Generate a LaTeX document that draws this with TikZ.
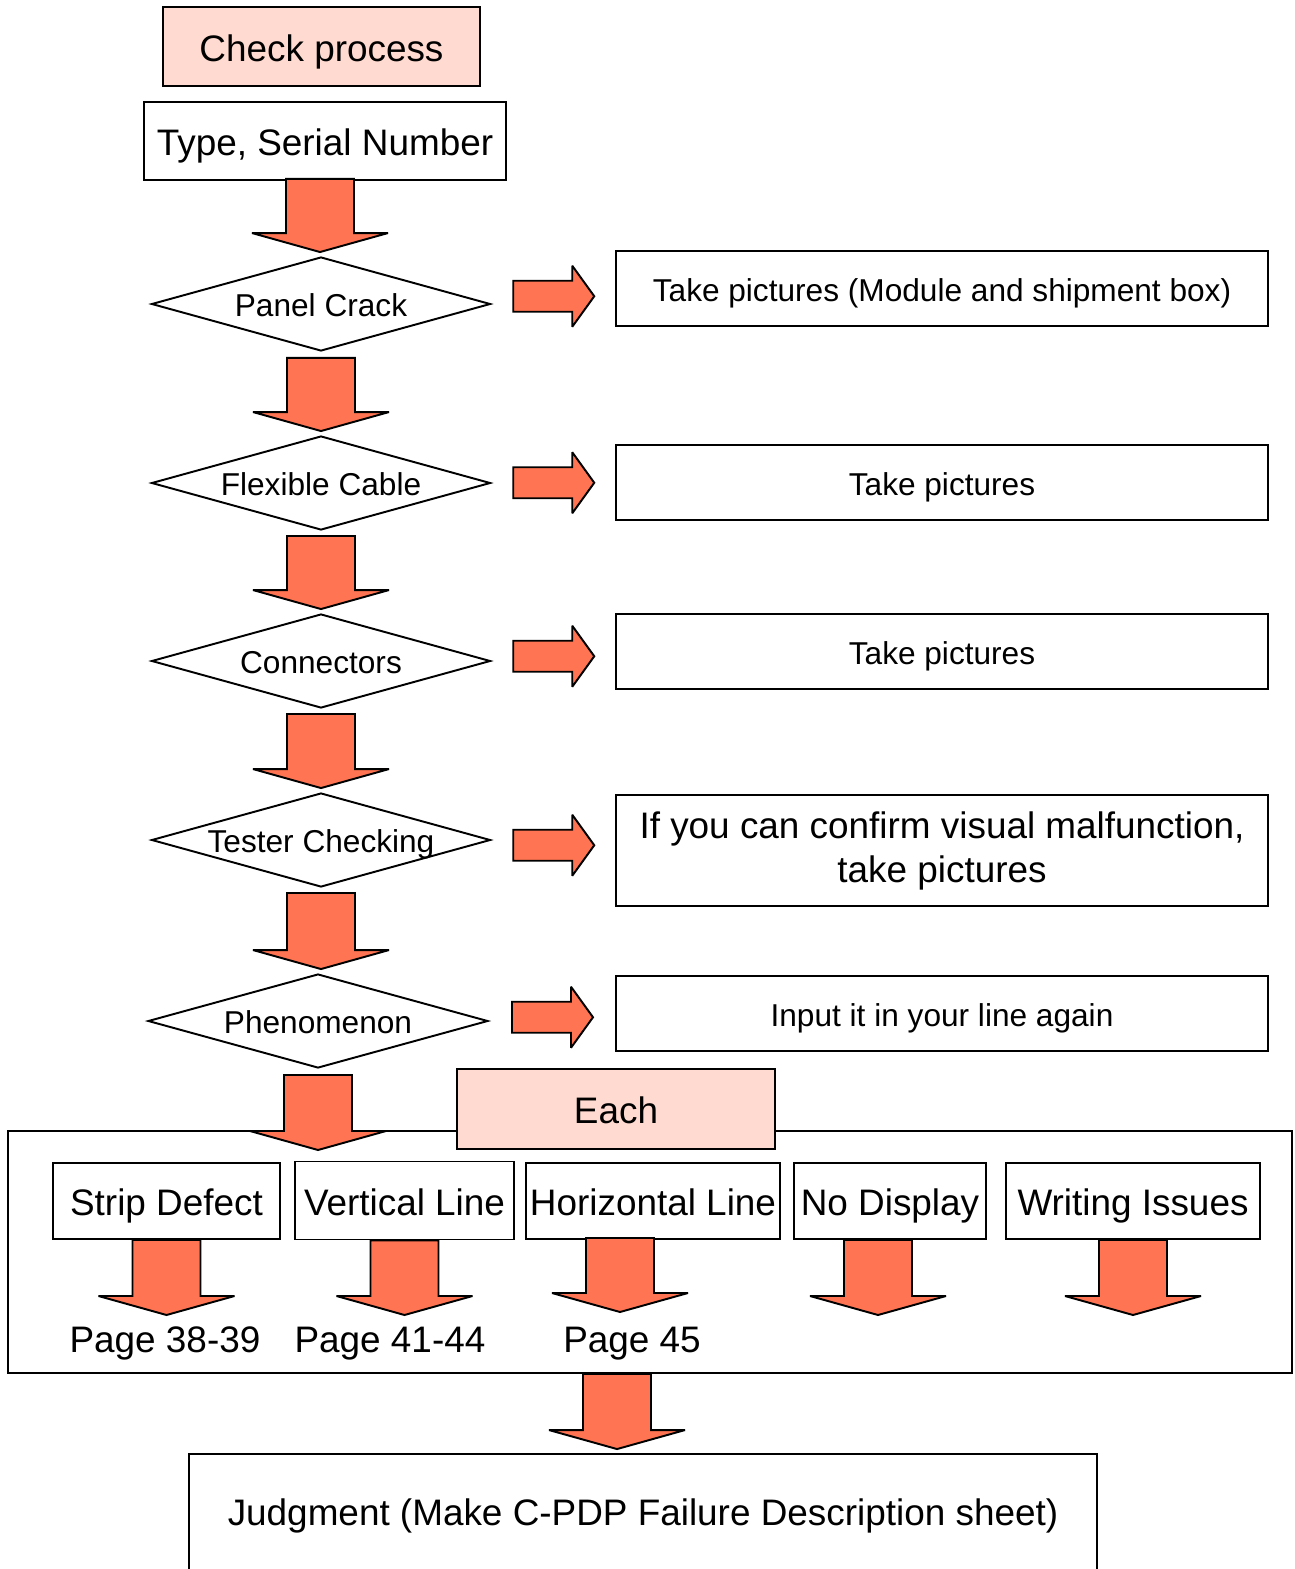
\documentclass[tikz,border=0pt]{standalone}
\usepackage{fontspec}
\setmainfont{Liberation Sans}
\usetikzlibrary{positioning,shapes.geometric,calc}
\definecolor{CoralFill}{RGB}{255,116,82}
\definecolor{SoftPink}{RGB}{255,218,208}
\newcommand{\txtbig}{\fontsize{21}{25}\selectfont}
\newcommand{\txtsmall}{\fontsize{18}{21.6}\selectfont}
\tikzset{
  bigtext/.style={font=\txtbig,text height=17pt,text depth=0pt},
  smalltext/.style={font=\txtsmall,text height=14.6pt,text depth=0pt},
  titlebox/.style={draw,fill=SoftPink,line width=1.1pt,inner sep=0pt,bigtext},
  plainbox/.style={draw,fill=white,line width=1.1pt,inner sep=0pt,align=center},
  decision/.style={diamond,draw,fill=white,line width=1.1pt,inner sep=0pt,aspect=3.6,
    minimum width=6.78cm,minimum height=1.88cm,smalltext},
  notebox/.style={plainbox,minimum width=13.04cm,minimum height=1.5cm,smalltext},
  subbox/.style={plainbox,minimum height=1.52cm,bigtext},
  pagelabel/.style={inner sep=0pt,bigtext},
  blockarrow/.style={draw,fill=CoralFill,line width=1.1pt,line join=miter,miter limit=2}
}
% fat arrow pointing down, from #2 to the height of #3
\newcommand{\blockdown}[3][0]{%
  \coordinate (bt) at ($(#2)+(0,#1)$);
  \coordinate (bh) at ($(bt |- #3)+(0,-4)$);
  \draw[blockarrow] ($(bt)+(-34,0)$) -- ($(bh)+(-34,-19)$) -- ($(bh)+(-68,-19)$) -- (bh)
    -- ($(bh)+(68,-19)$) -- ($(bh)+(34,-19)$) -- ($(bt)+(34,0)$) -- cycle;}
% fat arrow pointing right, half way between #1 and #2
\newcommand{\blockright}[2]{%
  \coordinate (bm) at ($(#1.east)!0.5!(#2.west)$);
  \draw[blockarrow] ($(bm)+(-40,-15.5)$) -- ($(bm)+(19,-15.5)$) -- ($(bm)+(19,-30.5)$)
    -- ($(bm)+(41,0)$) -- ($(bm)+(19,30.5)$) -- ($(bm)+(19,15.5)$) -- ($(bm)+(-40,15.5)$) -- cycle;}

\begin{document}
\begin{tikzpicture}[x=0.02cm,y=-0.02cm]
\useasboundingbox (0,0) rectangle (1295,1569);

% head of the flow
\node[titlebox,minimum width=6.34cm,minimum height=1.58cm] (check) at (321.5,46.5) {Check process};
\node[plainbox,minimum width=7.24cm,minimum height=1.56cm,bigtext] (type) at (325,141) {Type, Serial Number};

% checks
\node[decision] (panel) at (321,304) {Panel Crack};
\node[decision] (flex) at (321,483) {Flexible Cable};
\node[decision] (conn) at (321,661) {Connectors};
\node[decision] (tester) at (321,840) {Tester Checking};
\node[decision,minimum width=6.8cm] (phen) at (318,1021) {Phenomenon};

% what to do at each check
\node[notebox] (pic1) at (942,288.5) {Take pictures (Module and shipment box)};
\node[notebox] (pic2) at (942,482.5) {Take pictures};
\node[notebox] (pic3) at (942,651.5) {Take pictures};
\node[plainbox,minimum width=13.04cm,minimum height=2.22cm,font=\txtbig] (pic4) at (942,850.5) {If you can confirm visual malfunction,\\take pictures};
\node[notebox] (pic5) at (942,1013.5) {Input it in your line again};

% phenomenon groups
\node[plainbox,fill=none,minimum width=25.68cm,minimum height=4.84cm] (bigbox) at (650,1252) {};
\node[titlebox,minimum width=6.36cm,minimum height=1.6cm] (each) at (616,1109) {Each};
\node[subbox,minimum width=4.54cm] (sd) at (166.5,1201) {Strip Defect};
\node[subbox,minimum width=4.38cm,minimum height=1.56cm] (vl) at (404.5,1200.5) {Vertical Line};
\node[subbox,minimum width=5.08cm] (hl) at (653,1201) {Horizontal Line};
\node[subbox,minimum width=3.84cm] (nd) at (890,1201) {No Display};
\node[subbox,minimum width=5.08cm] (wi) at (1133,1201) {Writing Issues};
\node[pagelabel] (pg1) at (165,1338) {Page 38-39};
\node[pagelabel] (pg2) at (390,1338) {Page 41-44};
\node[pagelabel] (pg3) at (632,1338) {Page 45};

\node[plainbox,minimum width=18.16cm,minimum height=2.64cm,bigtext,text depth=11pt] (judg) at (643,1520) {Judgment (Make C-PDP Failure Description sheet)};

% free ends
\coordinate (type-out) at ([xshift=-0.1cm]type.south);
\coordinate (phen-end) at (318,1154);
\coordinate (sd-end) at (167,1319);
\coordinate (vl-end) at (409,1319);
\coordinate (hl-top) at ([xshift=-0.66cm]hl.south);
\coordinate (hl-end) at (620,1316);
\coordinate (nd-top) at ([xshift=-0.24cm]nd.south);
\coordinate (nd-end) at (878,1319);
\coordinate (wi-end) at (1135,1319);
\coordinate (bb-out) at ([xshift=-0.66cm]bigbox.south);

% arrows
\blockdown[-2]{type-out}{panel.north}
\blockdown[6]{panel.south}{flex.north}
\blockdown[5]{flex.south}{conn.north}
\blockdown[5]{conn.south}{tester.north}
\blockdown[5]{tester.south}{phen.north}
\blockdown[6]{phen.south}{phen-end}
\blockright{panel}{pic1}
\blockright{flex}{pic2}
\blockright{conn}{pic3}
\blockright{tester}{pic4}
\blockright{phen}{pic5}
\blockdown{sd.south}{sd-end}
\blockdown{vl.south}{vl-end}
\blockdown[-2]{hl-top}{hl-end}
\blockdown{nd-top}{nd-end}
\blockdown{wi.south}{wi-end}
\blockdown{bb-out}{judg.north}
\end{tikzpicture}
\end{document}
